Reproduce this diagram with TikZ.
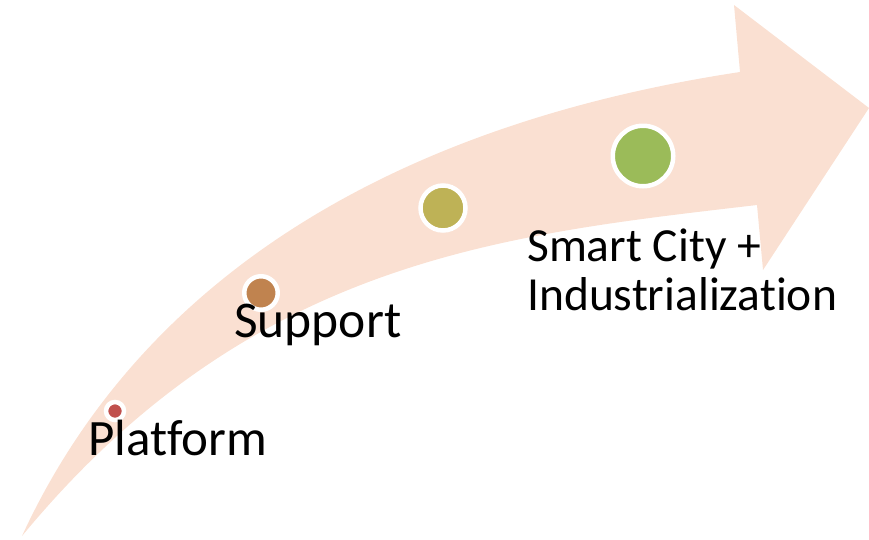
\documentclass[tikz,border=0pt]{standalone}
\usepackage{fontspec}
\setmainfont[Ligatures=NoCommon]{Carlito}
\usepackage{xcolor}
\usepackage{tikz}
\usetikzlibrary{positioning}
\definecolor{arrowpeach}{HTML}{FAE0D2}
\definecolor{dotred}{HTML}{C0504D}
\definecolor{dotbrown}{HTML}{C0834F}
\definecolor{dotolive}{HTML}{BEB256}
\definecolor{dotgreen}{HTML}{9BBB59}

\begin{document}
\begin{tikzpicture}[x=1pt, y=-1pt,
  dot/.style={circle, draw=white, line width=4.5pt, inner sep=0pt},
  steplabel/.style={anchor=base west, inner sep=0pt, text=black}]
  % frame of 869 x 539 px, 1 px = 1 pt, y downwards
  \useasboundingbox (0,0) rectangle (869,539);
  % curved block arrow
  \fill[arrowpeach] (22,536) .. controls (140,280) and (390,125) .. (740,72)
    -- (734,5) -- (869,108) -- (763,270) -- (757,205)
    .. controls (500,235) and (250,260) .. (22,536) -- cycle;
  % milestones, growing along the arrow
  \node[dot, fill=dotred, minimum size=18pt] (dotPlatform) at (115,411) {};
  \node[dot, fill=dotbrown, minimum size=33.5pt] (dotSupport) at (261,293) {};
  \node[dot, fill=dotolive, minimum size=45pt] (dotSmart) at (443,208) {};
  \node[dot, fill=dotgreen, minimum size=60.5pt] (dotIndustry) at (643,156) {};
  % labels
  \node[steplabel, font=\fontsize{51}{58}\selectfont] (labPlatform) at (88,455) {Platform};
  \node[steplabel, font=\fontsize{51.5}{58}\selectfont] (labSupport) at (234,337) {Support};
  \node[steplabel, font=\fontsize{47.5}{49}\selectfont] (labSmart) at (527,261) {Smart City +};
  \node[steplabel, font=\fontsize{47.5}{49}\selectfont, below=49pt of labSmart.base west, anchor=base west] (labIndustry) {Industrialization};
\end{tikzpicture}
\end{document}
